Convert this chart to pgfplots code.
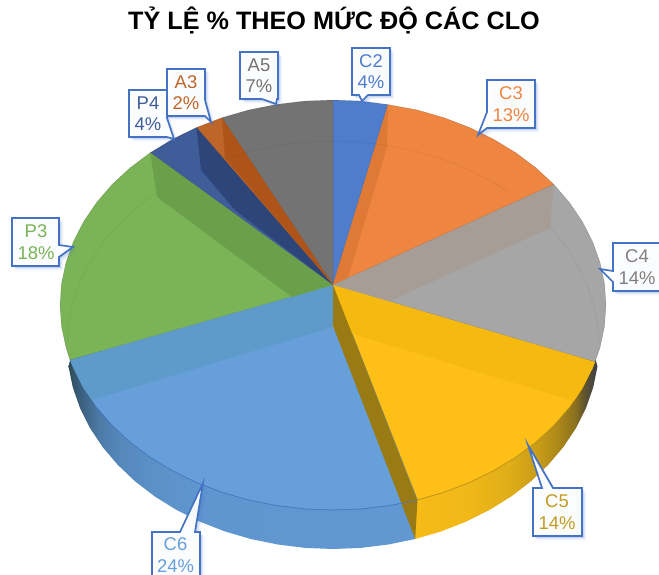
\documentclass[border=0pt]{standalone}
\usepackage{pgfplots}
\pgfplotsset{compat=1.18}
\usepackage{fontspec}
\setmainfont{Liberation Sans}
\definecolor{cbox}{HTML}{4472C4}
\definecolor{cC2}{HTML}{4F7DCB}
\definecolor{cC3}{HTML}{EE8541}
\definecolor{cC4}{HTML}{A6A6A6}
\definecolor{cC5}{HTML}{FEC017}
\definecolor{cC6}{HTML}{669FD9}
\definecolor{cP3}{HTML}{7AB457}
\definecolor{cP4}{HTML}{3F5D98}
\definecolor{cA3}{HTML}{BE6529}
\definecolor{cA5}{HTML}{737373}
\definecolor{WALLc3}{HTML}{DE7A35}
\definecolor{WALLc4}{HTML}{A69E96}
\definecolor{WALLc5}{HTML}{F5B90F}
\definecolor{WALLc6}{HTML}{5E9BCB}
\definecolor{WALLp3}{HTML}{6BA04A}
\definecolor{WALLp4}{HTML}{2E4579}
\definecolor{WALLa3}{HTML}{AE5419}
\definecolor{WALLcut}{HTML}{9A7A12}
\definecolor{LABc4}{HTML}{808080}
\definecolor{LABc5}{HTML}{C29C22}
\definecolor{RIMgold}{HTML}{C0961A}
\pgfdeclarehorizontalshading{goldside}{100bp}{
  rgb(0bp)=(.969,.733,.090); rgb(25.5bp)=(.969,.733,.090); rgb(40bp)=(.941,.722,.094);
  rgb(51bp)=(.878,.682,.094); rgb(59bp)=(.784,.612,.094); rgb(65bp)=(.659,.522,.102);
  rgb(69bp)=(.541,.439,.125); rgb(71.6bp)=(.365,.322,.188); rgb(75bp)=(.231,.247,.290);
  rgb(100bp)=(.231,.247,.290)}
\pgfdeclarehorizontalshading{blueside}{100bp}{
  rgb(0bp)=(.180,.290,.314); rgb(25bp)=(.180,.290,.314); rgb(26bp)=(.208,.345,.447);
  rgb(27.4bp)=(.247,.400,.537); rgb(29.5bp)=(.302,.482,.659); rgb(32.4bp)=(.333,.533,.733);
  rgb(36.8bp)=(.357,.565,.776); rgb(44bp)=(.376,.588,.812); rgb(75bp)=(.384,.596,.824);
  rgb(100bp)=(.384,.596,.824)}
% flat polygon in picture coordinates
\newcommand{\poly}[2]{\addplot[fill=#1,draw=none,no markers] coordinates {#2} --cycle;}
% top sector
\newcommand{\sector}[2]{\addplot[fill=#1,draw=black,draw opacity=.22,line width=.4pt,no markers] coordinates {#2} --cycle;}
\newcommand{\ring}[1]{\addplot[draw=black,draw opacity=.05,line width=.7pt,no markers] coordinates {#1};}
% callout with soft shadow
\newcommand{\callout}[1]{%
  \addplot[fill=cbox,fill opacity=.07,draw=none,no markers,xshift=4.5pt,yshift=-4.5pt] coordinates {#1} --cycle;
  \addplot[fill=cbox,fill opacity=.10,draw=none,no markers,xshift=3pt,yshift=-3pt] coordinates {#1} --cycle;
  \addplot[fill=cbox,fill opacity=.14,draw=none,no markers,xshift=1.8pt,yshift=-1.8pt] coordinates {#1} --cycle;
  \addplot[fill=white,fill opacity=.95,draw=cbox,line width=1.7pt,line join=miter,no markers] coordinates {#1} --cycle;
}
\newcommand{\lab}[4]{\node[text=#1,align=center,inner sep=0pt,font=\fontsize{18.5}{21.5}\selectfont] at (axis cs:#2,#3) {#4};}
\begin{document}
\begin{tikzpicture}
\path[use as bounding box] (0,0) rectangle (659bp,575bp);
\begin{axis}[
  scale only axis, width=659bp, height=575bp,
  xmin=0, xmax=659, ymin=0, ymax=575, y dir=reverse,
  hide axis, clip=true]
% ---- side walls (under the top face)
\addplot[shade,shading=blueside,draw=none,no markers] coordinates {(415.2,539)(388.3,544.5)(360.8,547.9)(333,549)(305.2,547.9)(277.7,544.5)(250.8,539)(224.8,531.4)(200,521.7)(176.6,510)(155,496.6)(135.3,481.5)(117.8,464.9)(102.6,447)(90,428)(80,408)(72.8,387.4)(68.5,366.3)(75,340)(400,480)} --cycle;
\addplot[shade,shading=goldside,draw=none,no markers] coordinates {(597.5,366.3)(593.2,387.4)(586,408)(576,428)(563.4,447)(548.2,464.9)(530.7,481.5)(511,496.6)(489.4,510)(466,521.7)(441.2,531.4)(415.2,539)(412,480)(590,340)} --cycle;
% ---- top face
\sector{cC2}{(333,285)(333,100)(361.5,101.1)(388,104.6)}
\sector{cC3}{(333,285)(388,104.6)(417.4,110)(444,117.7)(469.5,127.5)(493.5,139.2)(515.7,152.7)(535.9,167.8)(553.9,184.5)}
\sector{cC4}{(333,285)(553.9,184.5)(569.4,202.5)(582.4,221.6)(592.6,241.7)(600,262.4)(604.5,283.6)(606,305)(604.5,326.4)(600,347.6)(595,362)}
\sector{cC5}{(333,285)(595,362)(592.6,368.3)(582.4,388.4)(569.4,407.5)(553.9,425.5)(535.9,442.2)(515.7,457.3)(493.5,470.8)(469.5,482.5)(444,492.3)(417.4,500)}
\sector{cC6}{(333,285)(417.4,500)(389.8,505.5)(361.5,508.9)(333,510)(304.5,508.9)(276.2,505.5)(248.6,500)(222,492.3)(196.5,482.5)(172.5,470.8)(150.3,457.3)(130.1,442.2)(112.1,425.5)(96.6,407.5)(83.6,388.4)(73.4,368.3)(70,360)}
\sector{cP3}{(333,285)(70,360)(66,347.6)(61.5,326.4)(60,305)(61.5,283.6)(66,262.4)(73.4,241.7)(83.6,221.6)(96.6,202.5)(112.1,184.5)(130.1,167.8)(150.3,152.7)}
\sector{cP4}{(333,285)(150.3,152.7)(172.5,139.2)(196.5,127.5)}
\sector{cA3}{(333,285)(196.5,127.5)(222,117.7)}
\sector{cA5}{(333,285)(222,117.7)(248.6,110)(276.2,104.5)(304.5,101.1)(333,100)}
% ---- inner walls seen through the top face
\poly{WALLc3}{(333,285)(388,104.6)(387,147)(348,278)}
\poly{WALLc4}{(333,285)(553.9,184.5)(550,228)(333,327)}
\poly{WALLc5}{(333,285)(595,362)(592.6,368.3)(582.4,388.4)(574,401)(333,328)}
\poly{WALLc6}{(333,285)(70,360)(73.4,368.3)(83.6,388.4)(92,400)(333,327)}
\poly{WALLp3}{(150.3,152.7)(157,197)(292,297)(333,285)}
\poly{WALLp4}{(196.5,127.5)(201,170)(235,210)(333,285)}
\poly{WALLa3}{(222,117.7)(225,158)(333,285)}
\poly{WALLcut}{(333,285)(417.4,501)(415.2,539)(333,326)}
% ---- faint far edge of the base, seen through
\ring{(224.8,158.6)(250.8,151)(277.7,145.5)(305.2,142.1)(333,141)(360.8,142.1)(388.3,145.5)(415.2,151)(441.2,158.6)(466,168.3)(489.4,180)(511,193.4)}
\ring{(548.2,225.1)(563.4,243)(576,262)(586,282)(593.2,302.6)(597.5,323.7)(599,345)}
\ring{(155,193.4)(135.3,208.5)(117.8,225.1)(102.6,243)(90,262)(80,282)(72.8,302.6)(68.5,323.7)(67,345)}
% ---- rim lines
\addplot[draw=cbox!85!cC6,line width=.6pt,no markers] coordinates {(417.4,500)(389.8,505.5)(361.5,508.9)(333,510)(304.5,508.9)(276.2,505.5)(248.6,500)(222,492.3)(196.5,482.5)(172.5,470.8)(150.3,457.3)(130.1,442.2)(112.1,425.5)(96.6,407.5)};
\addplot[draw=RIMgold,line width=.6pt,no markers] coordinates {(574,401)(569.4,407.5)(553.9,425.5)(535.9,442.2)(515.7,457.3)(493.5,470.8)(469.5,482.5)(444,492.3)(417.4,500)};
% ---- callouts
\callout{(240,52)(278,52)(278,99)(277,99)(276,104)(262,99)(240,99)}
\callout{(352,48)(390,48)(390,95)(368,95)(362,101)(359,95)(352,95)}
\callout{(129,90)(167,90)(167,118)(174,139)(167,137)(129,137)}
\callout{(167,69)(205,69)(205,100)(211,122)(205,116)(167,116)}
\callout{(487,80)(535,80)(535,128)(487,128)(478,135)(487,112)}
\callout{(613,243)(662,243)(662,291)(613,291)(613,282)(600,269)(613,271)}
\callout{(533,488)(542,488)(528,445)(553,488)(582,488)(582,536)(533,536)}
\callout{(152,532)(180,532)(203,483)(195,532)(200,532)(200,585)(152,585)}
\callout{(12,218)(59,218)(59,245)(73,247)(59,257)(59,266)(12,266)}
% ---- text
\lab{cA5}{259}{75.5}{A5\\7\%}{}
\lab{cC2}{371}{71.5}{C2\\4\%}{}
\lab{cP4}{148}{113.5}{P4\\4\%}{}
\lab{cA3}{186}{92.5}{A3\\2\%}{}
\lab{cC3}{511}{104}{C3\\13\%}{}
\lab{LABc4}{637}{267}{C4\\14\%}{}
\lab{LABc5}{557}{512}{C5\\14\%}{}
\lab{cC6}{175.5}{555}{C6\\24\%}{}
\lab{cP3}{36}{242}{P3\\18\%}{}
\node[font=\fontsize{25.3}{28}\selectfont\bfseries,text=black,anchor=base] at (axis cs:334,30) {TỶ LỆ \% THEO MỨC ĐỘ CÁC CLO};
\end{axis}
\end{tikzpicture}
\end{document}
